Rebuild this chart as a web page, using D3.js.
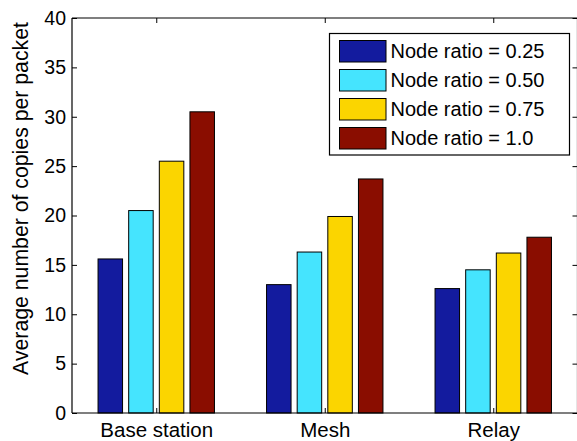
<!DOCTYPE html>
<html>
<head>
<meta charset="utf-8">
<script src="https://cdn.jsdelivr.net/npm/d3@7"></script>
<style>
  html, body { margin: 0; padding: 0; background: #fff; }
  svg { display: block; font-family: "Liberation Sans", Arial, Helvetica, sans-serif; }
</style>
</head>
<body>
<svg id="chart" width="577" height="441"></svg>
<script>
// Scenarios along the x axis
const categories = ["Base station", "Mesh", "Relay"];
// Legend entries, one per series
const seriesNames = ["Node ratio = 0.25", "Node ratio = 0.50", "Node ratio = 0.75", "Node ratio = 1.0"];
// Average copies per packet for each series, in category order
const ratio025 = [15.6, 13.0, 12.6];
const ratio050 = [20.5, 16.3, 14.5];
const ratio075 = [25.5, 19.9, 16.2];
const ratio100 = [30.5, 23.7, 17.8];
const seriesValues = [ratio025, ratio050, ratio075, ratio100];
const seriesColors = ["#131b9e", "#45e4fe", "#fbd500", "#8a0d00"];
const yTicks = [0, 5, 10, 15, 20, 25, 30, 35, 40];
const yLabel = "Average number of copies per packet";

const svg = d3.select("#chart");
const plotL = 72, plotR = 577.5, plotT = 18, plotB = 413;

// Group positions 1..n with half a unit of padding on each side
const x = d3.scaleLinear().domain([0.5, categories.length + 0.5]).range([plotL, plotR]);
const y = d3.scaleLinear().domain([0, 40]).range([plotB, plotT]);

const nSeries = seriesValues.length;
const groupWidth = Math.min(0.8, nSeries / (nSeries + 1.5));
const slot = groupWidth / nSeries;
const barW = slot * 0.8;

// Bars
seriesValues.forEach((vals, s) => {
  svg.append("g").selectAll("rect").data(vals).join("rect")
    .attr("x", (d, i) => x(i + 1 - groupWidth / 2 + slot * (s + 0.5) - barW / 2))
    .attr("width", x(barW) - x(0))
    .attr("y", d => y(d))
    .attr("height", d => y(0) - y(d))
    .attr("fill", seriesColors[s])
    .attr("stroke", "#000")
    .attr("stroke-width", 1);
});

// Axes: ticks point inward on all four sides
const tickLen = 5;
const axisL = svg.append("g").attr("transform", `translate(${plotL},0)`)
  .call(d3.axisLeft(y).tickValues(yTicks).tickSize(-tickLen).tickPadding(6));
const axisR = svg.append("g").attr("transform", `translate(${plotR},0)`)
  .call(d3.axisRight(y).tickValues(yTicks).tickSize(-tickLen).tickFormat(""));
const axisB = svg.append("g").attr("transform", `translate(0,${plotB})`)
  .call(d3.axisBottom(x).tickValues(d3.range(1, categories.length + 1))
    .tickSize(-tickLen).tickPadding(9).tickFormat(d => categories[d - 1]));
const axisT = svg.append("g").attr("transform", `translate(0,${plotT})`)
  .call(d3.axisTop(x).tickValues(d3.range(1, categories.length + 1))
    .tickSize(-tickLen).tickFormat(""));

[axisL, axisR, axisB, axisT].forEach(g => {
  g.select(".domain").attr("stroke", "#000").attr("stroke-width", 1.2);
  g.selectAll(".tick line").attr("stroke", "#000");
  g.selectAll("text").attr("font-family", "Liberation Sans, Arial, sans-serif").attr("fill", "#000");
});
axisL.selectAll("text").attr("font-size", 19.5);
axisB.selectAll("text").attr("font-size", 20.5);
// Plain axis lines without end caps
axisL.select(".domain").attr("d", `M0,${plotB}V${plotT}`);
axisR.select(".domain").attr("d", `M0,${plotB}V${plotT}`);
axisB.select(".domain").attr("d", `M${plotL},0H${plotR}`);
axisT.select(".domain").attr("d", `M${plotL},0H${plotR}`);

// Y axis title, sized to span 353px along the axis
const yTitle = svg.append("text")
  .attr("transform", `translate(28,198.5) rotate(-90)`)
  .attr("text-anchor", "middle")
  .attr("font-size", 19.5)
  .attr("fill", "#000")
  .text(yLabel);
const measured = yTitle.node().getComputedTextLength();
if (measured > 0) yTitle.attr("font-size", 19.5 * 353 / measured);

// Legend
const lg = svg.append("g").attr("transform", "translate(329.5,33.5)");
lg.append("rect").attr("width", 240).attr("height", 121.5)
  .attr("fill", "#fff").attr("stroke", "#000").attr("stroke-width", 1.2);
seriesNames.forEach((name, i) => {
  const cy = 17.5 + i * 29;
  lg.append("rect").attr("x", 10).attr("y", cy - 10.5).attr("width", 46.5).attr("height", 21.5)
    .attr("fill", seriesColors[i]).attr("stroke", "#000").attr("stroke-width", 1);
  lg.append("text").attr("x", 61).attr("y", cy).attr("dy", "0.36em")
    .attr("font-size", 20).attr("fill", "#000").text(name);
});
</script>
</body>
</html>
